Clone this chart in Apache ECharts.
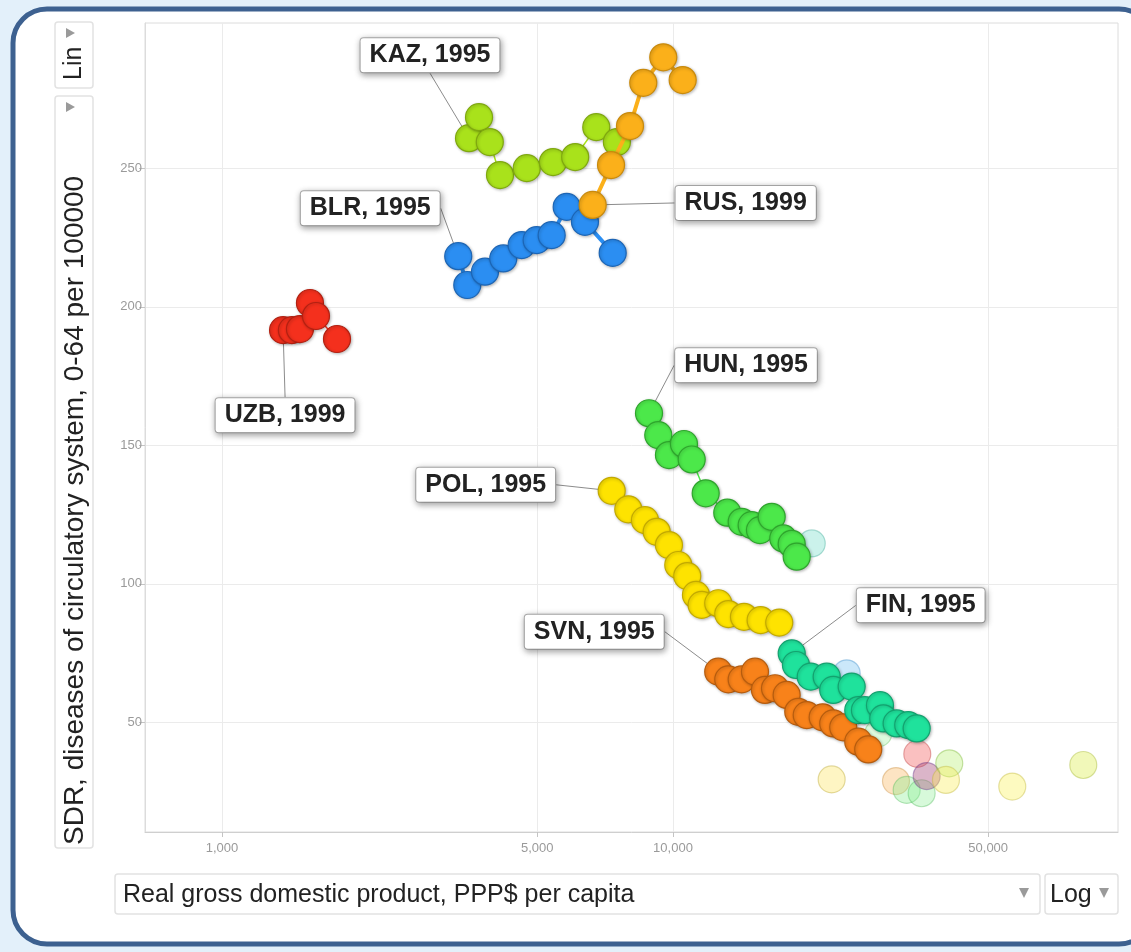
<!DOCTYPE html>
<html><head><meta charset="utf-8">
<script src="https://cdn.jsdelivr.net/npm/echarts@6/dist/echarts.min.js"></script>
<style>html,body{margin:0;padding:0;background:#e3f0fa;} #c{width:1131px;height:952px;}</style>
</head><body><div id="c"></div>
<script>
// ---- tick labels ----
const X_TICKS = [1000, 5000, 10000, 50000];
const Y_TICKS = [50, 100, 150, 200, 250];

// ---- series values (GDP per capita PPP$, SDR circulatory 0-64 per 100000) ----
const UZB_GDP = [1366, 1429, 1489, 1567, 1616, 1799];
const UZB_SDR = [191.6, 191.6, 192.0, 201.4, 196.7, 188.4];

const KAZ_GDP = [3530, 3715, 3925, 4135, 4740, 5420, 6070, 6760, 7510];
const KAZ_SDR = [260.9, 268.5, 259.5, 247.6, 250.1, 252.3, 254.1, 264.9, 259.5];

const BLR_GDP = [3341, 3499, 3830, 4205, 4618, 4986, 5383, 5812, 6381, 7351];
const BLR_SDR = [218.3, 207.9, 212.7, 217.5, 222.3, 224.1, 225.9, 236.1, 230.7, 219.5];

const RUS_GDP = [6637, 7289, 8030, 8593, 9517, 10508];
const RUS_SDR = [236.8, 251.2, 265.3, 280.9, 290.1, 281.9];

const HUN_GDP = [8848, 9277, 9797, 10578, 11003, 11818, 13195, 14203, 14945, 15592, 16553, 17565, 18334, 18808];
const HUN_SDR = [161.6, 153.7, 146.5, 150.5, 144.9, 132.7, 125.7, 122.4, 121.2, 119.4, 124.2, 116.4, 114.4, 109.8];

const POL_GDP = [7314, 7960, 8667, 9203, 9797, 10275, 10757, 11246, 11576, 12600, 13264, 14370, 15646, 17205];
const POL_SDR = [133.6, 126.9, 123.0, 118.8, 114.0, 106.8, 102.8, 96.0, 92.4, 93.0, 89.1, 88.1, 86.9, 86.0];

const SVN_GDP = [12600, 13264, 14203, 15200, 15996, 16836, 17868, 18960, 19796, 21475, 22667, 23854, 25755, 27101];
const SVN_SDR = [68.3, 65.5, 65.5, 68.3, 61.7, 62.3, 59.9, 53.8, 52.6, 51.8, 49.6, 48.2, 43.0, 40.2];

const FIN_GDP = [18334, 18737, 20207, 21920, 22667, 24901, 25755, 26650, 28774, 29265, 31333, 33243, 34703];
const FIN_SDR = [74.9, 70.7, 66.5, 66.5, 61.7, 62.9, 54.4, 54.4, 56.2, 51.4, 49.6, 49.0, 47.8];

// faded, unselected countries
const OTHER_GDP = [20310, 24279, 28524, 22484, 31225, 32976, 35596, 34810, 36516, 40985, 40300, 56537, 81244];
const OTHER_SDR = [114.6, 67.7, 46.0, 29.4, 28.8, 25.6, 24.4, 38.6, 30.6, 35.2, 29.2, 26.8, 34.6];

const COUNTRIES = ['UZB', 'KAZ', 'BLR', 'RUS', 'HUN', 'POL', 'SVN', 'FIN'];
const LABEL_YEARS = [1999, 1995, 1995, 1999, 1995, 1995, 1995, 1995];

// ---- styles ----
const STYLE = {
  UZB: {c: '#f4301d', b: '#b32112', w: 1.5, dx: 2,    dy: 85},
  KAZ: {c: '#a9e21b', b: '#7fa80f', w: 1.5, dx: -39,  dy: -83},
  BLR: {c: '#2b8ef2', b: '#1c65b5', w: 4,   dx: -88,  dy: -48},
  RUS: {c: '#fbb01a', b: '#c98a0c', w: 4,   dx: 153,  dy: -2},
  HUN: {c: '#4ce84a', b: '#2ea52c', w: 1.5, dx: 97,   dy: -48},
  POL: {c: '#fee300', b: '#c2a900', w: 1.5, dx: -126, dy: -6},
  SVN: {c: '#f8821a', b: '#b65c0e', w: 1.5, dx: -124, dy: -40},
  FIN: {c: '#1fe29c', b: '#13a26f', w: 1.5, dx: 129,  dy: -48}
};
const OTHER_FILL = ['rgba(110,220,200,0.45)', 'rgba(110,190,240,0.45)', 'rgba(150,240,150,0.4)', 'rgba(253,228,90,0.45)',
  'rgba(250,180,90,0.45)', 'rgba(120,235,130,0.4)', 'rgba(130,235,140,0.4)', 'rgba(240,80,80,0.45)',
  'rgba(165,70,120,0.5)', 'rgba(170,235,90,0.4)', 'rgba(250,235,80,0.45)', 'rgba(250,240,80,0.45)', 'rgba(215,235,60,0.45)'];
const OTHER_BORDER = ['rgba(60,170,150,0.5)', 'rgba(60,140,200,0.5)', 'rgba(90,190,90,0.45)', 'rgba(190,170,60,0.55)',
  'rgba(200,140,60,0.5)', 'rgba(70,180,80,0.45)', 'rgba(70,180,80,0.45)', 'rgba(190,60,60,0.5)',
  'rgba(110,60,140,0.55)', 'rgba(120,180,50,0.5)', 'rgba(190,180,50,0.5)', 'rgba(190,180,50,0.5)', 'rgba(160,180,40,0.5)'];

const DATA = {
  UZB: [UZB_GDP, UZB_SDR], KAZ: [KAZ_GDP, KAZ_SDR], BLR: [BLR_GDP, BLR_SDR], RUS: [RUS_GDP, RUS_SDR],
  HUN: [HUN_GDP, HUN_SDR], POL: [POL_GDP, POL_SDR], SVN: [SVN_GDP, SVN_SDR], FIN: [FIN_GDP, FIN_SDR]
};

const FONT = 'Liberation Sans, Arial, Helvetica, sans-serif';
const SYM = 27;

const series = [];
series.push({
  type: 'scatter', name: 'others', silent: true, z: 2,
  symbol: 'circle', symbolSize: SYM,
  data: OTHER_GDP.map((x, i) => ({value: [x, OTHER_SDR[i]],
    itemStyle: {color: OTHER_FILL[i], borderColor: OTHER_BORDER[i], borderWidth: 1.2}})),
  emphasis: {disabled: true}
});

COUNTRIES.forEach((name, k) => {
  const s = STYLE[name];
  const [xs, ys] = DATA[name];
  series.push({
    type: 'line', name: name, silent: true, z: 3 + k,
    symbol: 'circle', symbolSize: SYM, showSymbol: true,
    data: xs.map((x, i) => i === 0 ? {value: [x, ys[i]], label: {show: true}} : [x, ys[i]]),
    lineStyle: {color: s.c, width: s.w},
    itemStyle: {color: s.c, borderColor: s.b, borderWidth: 1.2,
      shadowBlur: 3, shadowColor: 'rgba(0,0,0,0.25)', shadowOffsetX: 1, shadowOffsetY: 1},
    label: {
      show: false, position: 'inside', formatter: name + ', ' + LABEL_YEARS[k],
      fontFamily: FONT, fontSize: 25, fontWeight: 'bold', color: '#222',
      backgroundColor: '#fff', borderColor: '#b0b0b0', borderWidth: 1, borderRadius: 3,
      padding: [5, 9, 4, 9],
      shadowColor: 'rgba(0,0,0,0.35)', shadowBlur: 6, shadowOffsetX: 1, shadowOffsetY: 2
    },
    labelLine: {show: true, lineStyle: {color: '#8c8c8c', width: 1}},
    labelLayout: {dx: s.dx, dy: s.dy},
    emphasis: {disabled: true},
    animation: false
  });
});

function box(x, y, w, h) {
  return {type: 'rect', z: -5, shape: {x: x, y: y, width: w, height: h, r: 3},
    style: {fill: '#fff', stroke: '#e2e2e2', lineWidth: 1.5}};
}
function tri(points) {
  return {type: 'polygon', z: -4, shape: {points: points}, style: {fill: '#9a9a9a'}};
}

const graphic = [
  {type: 'rect', z: -20, shape: {x: 13, y: 9, width: 1140, height: 935, r: 34},
    style: {fill: '#fff', stroke: '#3d6190', lineWidth: 5}},
  box(55, 22, 38, 66),
  {type: 'text', z: -4, x: 74, y: 80, rotation: Math.PI / 2,
    style: {text: 'Lin', font: '25px ' + FONT, fill: '#222', align: 'left', verticalAlign: 'middle'}},
  tri([[66, 28], [66, 38], [75, 33]]),
  box(55, 96, 38, 752),
  tri([[66, 102], [66, 112], [75, 107]]),
  {type: 'text', z: -4, x: 75, y: 845, rotation: Math.PI / 2,
    style: {text: 'SDR, diseases of circulatory system, 0-64 per 100000', font: '28px ' + FONT, fill: '#222',
      align: 'left', verticalAlign: 'middle'}},
  box(115, 874, 925, 40),
  {type: 'text', z: -4, x: 123, y: 895,
    style: {text: 'Real gross domestic product, PPP$ per capita', font: '25px ' + FONT, fill: '#222',
      align: 'left', verticalAlign: 'middle'}},
  tri([[1019, 888], [1029, 888], [1024, 898]]),
  box(1045, 874, 73, 40),
  {type: 'text', z: -4, x: 1050, y: 895,
    style: {text: 'Log', font: '25px ' + FONT, fill: '#222', align: 'left', verticalAlign: 'middle'}},
  tri([[1099, 888], [1109, 888], [1104, 898]])
];

const chart = echarts.init(document.getElementById('c'), null, {renderer: 'canvas'});
chart.setOption({
  animation: false,
  backgroundColor: 'transparent',
  graphic: graphic,
  grid: {left: 145, top: 23, right: 13, bottom: 120, show: true, borderColor: '#dcdcdc', borderWidth: 1,
    backgroundColor: '#fff', containLabel: false},
  xAxis: {
    type: 'log', logBase: 10, min: 675, max: 97000,
    axisLine: {show: true, lineStyle: {color: '#cfcfcf'}},
    axisTick: {show: true, length: 5, lineStyle: {color: '#c4c4c4'}, customValues: X_TICKS},
    axisLabel: {customValues: X_TICKS, color: '#9a9a9a', fontSize: 13, fontFamily: FONT, margin: 10,
      formatter: v => Number(v).toLocaleString('en-US')},
    splitLine: {show: true, lineStyle: {color: '#ebebeb', width: 1}},
    minorSplitLine: {show: false}
  },
  yAxis: {
    type: 'value', min: 10.4, max: 302.5,
    axisLine: {show: true, lineStyle: {color: '#dcdcdc'}},
    axisTick: {show: true, length: 6, lineStyle: {color: '#c4c4c4'}, customValues: Y_TICKS},
    axisLabel: {customValues: Y_TICKS, color: '#9a9a9a', fontSize: 13, fontFamily: FONT, margin: 3},
    splitLine: {show: true, lineStyle: {color: '#ebebeb', width: 1}}
  },
  series: series
});
</script>
</body></html>
